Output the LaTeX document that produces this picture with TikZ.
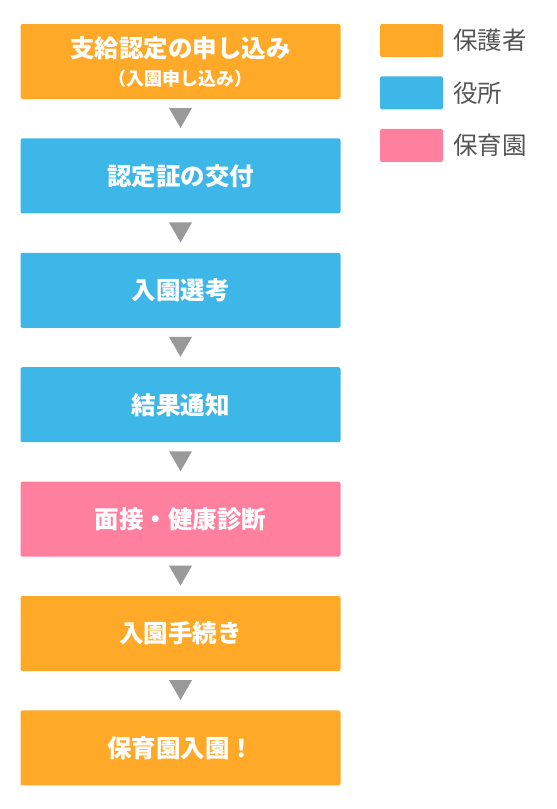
\documentclass[tikz,border=0pt]{standalone}
\usepackage{fontspec}
\setmainfont{Noto Sans CJK JP}
\usepackage{xcolor}
\usepackage{tikz}
\usetikzlibrary{positioning,shapes.geometric,calc}

\definecolor{hogosha}{HTML}{FFA929}
\definecolor{yakusho}{HTML}{3DB7E8}
\definecolor{hoikuen}{HTML}{FF7F9E}
\definecolor{arrowgray}{HTML}{999999}
\definecolor{legendtext}{HTML}{555555}

\begin{document}
\begin{tikzpicture}[
    node distance=39pt,
    flow/.style={rounded corners=2pt, minimum width=320pt, minimum height=75pt, inner sep=0pt, align=center, text=white, font=\fontsize{24.5}{28}\selectfont\bfseries},
    down/.style={fill=arrowgray, regular polygon, regular polygon sides=3, shape border rotate=180, minimum size=26.6pt, inner sep=0pt},
    key/.style={rounded corners=1.5pt, minimum width=63pt, minimum height=33pt, inner sep=0pt},
    keytext/.style={text=legendtext, font=\fontsize{24.5}{26}\selectfont, inner sep=0pt}
  ]
    \useasboundingbox (0,0) rectangle (557pt,-809pt);
    % flow
    \node[flow, fill=hogosha] (apply) at (180.5pt,-61.5pt) {支給認定の申し込み\\{\fontsize{18}{20}\selectfont （入園申し込み）}};
    \node[flow, fill=yakusho, below=of apply] (cert) {認定証の交付};
    \node[flow, fill=yakusho, below=of cert] (select) {入園選考};
    \node[flow, fill=yakusho, below=of select] (result) {結果通知};
    \node[flow, fill=hoikuen, below=of result] (interview) {面接・健康診断};
    \node[flow, fill=hogosha, below=of interview] (procedure) {入園手続き};
    \node[flow, fill=hogosha, below=of procedure] (admission) {保育園入園！};
    \node[down] (d1) at ($(apply.south)!0.5!(cert.north)+(0,4pt)$) {};
    \node[down] (d2) at ($(cert.south)!0.5!(select.north)+(0,4pt)$) {};
    \node[down] (d3) at ($(select.south)!0.5!(result.north)+(0,4pt)$) {};
    \node[down] (d4) at ($(result.south)!0.5!(interview.north)+(0,4pt)$) {};
    \node[down] (d5) at ($(interview.south)!0.5!(procedure.north)+(0,4pt)$) {};
    \node[down] (d6) at ($(procedure.south)!0.5!(admission.north)+(0,4pt)$) {};
    % legend
    \node[key, fill=hogosha] (keyparent) at (411.5pt,-40.5pt) {};
    \node[key, fill=yakusho, below=19pt of keyparent] (keyoffice) {};
    \node[key, fill=hoikuen, below=19pt of keyoffice] (keynursery) {};
    \node[keytext, right=10pt of keyparent] (lparent) {保護者};
    \node[keytext, right=10pt of keyoffice] (loffice) {役所};
    \node[keytext, right=10pt of keynursery] (lnursery) {保育園};
  \end{tikzpicture}
\end{document}
